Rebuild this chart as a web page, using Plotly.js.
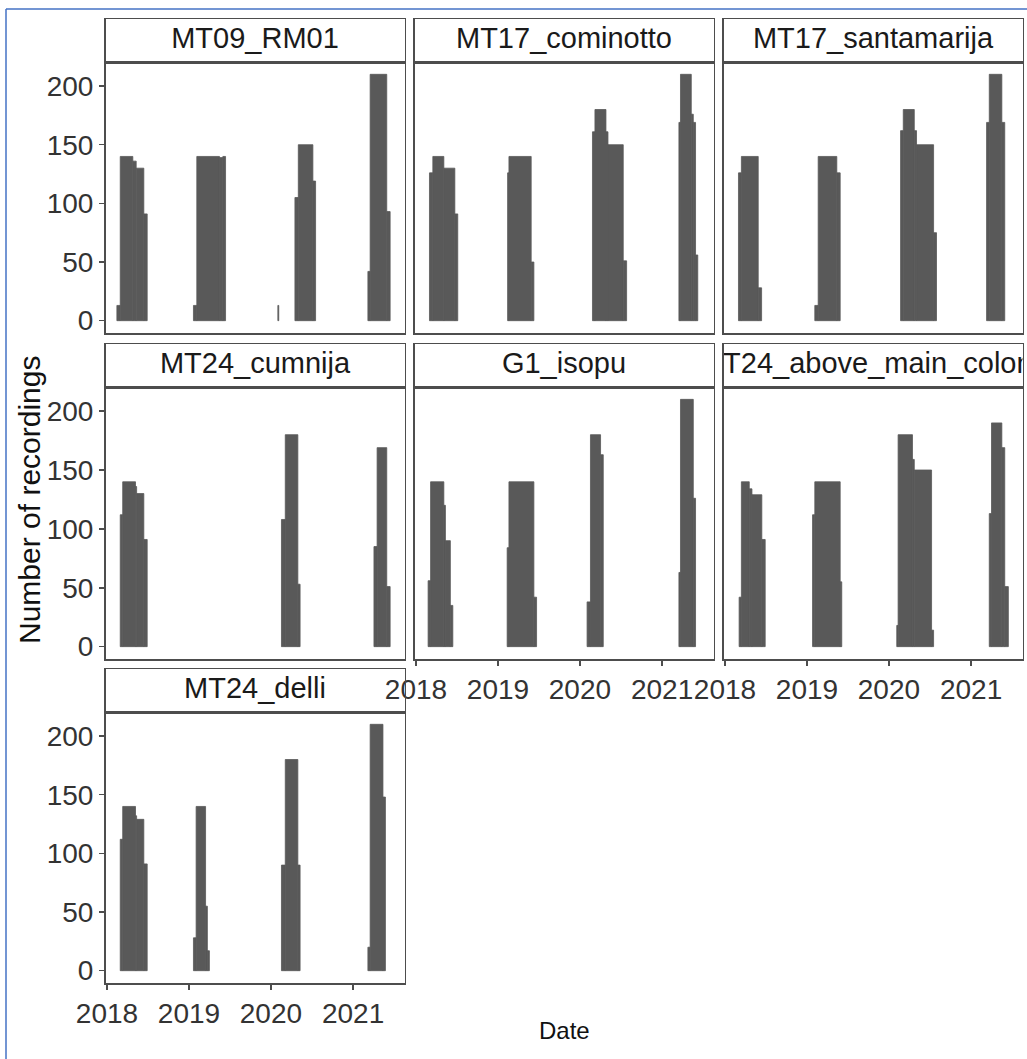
<!DOCTYPE html>
<html>
<head>
<meta charset="utf-8">
<script src="https://cdn.plot.ly/plotly-3.0.1.min.js"></script>
<style>
  html, body { margin: 0; padding: 0; background: #ffffff; }
  #chart { width: 1027px; height: 1059px; }
</style>
</head>
<body>
<div id="chart"></div>
<script>
// Daily recording counts per site, as periods of constant count:
// [first day, day after last day, recordings per day]
const MT09_RM01 = [
  ['2018-02-14', '2018-03-01', 13],
  ['2018-03-01', '2018-04-26', 140],
  ['2018-04-26', '2018-05-11', 136],
  ['2018-05-11', '2018-06-14', 130],
  ['2018-06-14', '2018-06-29', 91],
  ['2019-01-21', '2019-02-05', 13],
  ['2019-02-05', '2019-05-17', 140],
  ['2019-05-17', '2019-06-01', 139],
  ['2019-06-01', '2019-06-13', 140],
  ['2020-02-01', '2020-02-05', 13],
  ['2020-04-17', '2020-05-02', 105],
  ['2020-05-02', '2020-07-06', 150],
  ['2020-07-06', '2020-07-18', 119],
  ['2021-03-08', '2021-03-18', 42],
  ['2021-03-18', '2021-05-31', 210],
  ['2021-05-31', '2021-06-15', 93]
];

const MT17_cominotto = [
  ['2018-03-02', '2018-03-17', 126],
  ['2018-03-17', '2018-05-05', 140],
  ['2018-05-05', '2018-06-23', 130],
  ['2018-06-23', '2018-07-06', 91],
  ['2019-02-13', '2019-02-19', 126],
  ['2019-02-19', '2019-05-29', 140],
  ['2019-05-29', '2019-06-10', 50],
  ['2020-02-26', '2020-03-08', 161],
  ['2020-03-08', '2020-04-26', 180],
  ['2020-04-26', '2020-05-05', 161],
  ['2020-05-05', '2020-07-12', 150],
  ['2020-07-12', '2020-07-27', 51],
  ['2021-03-17', '2021-03-24', 169],
  ['2021-03-24', '2021-05-11', 210],
  ['2021-05-11', '2021-05-20', 176],
  ['2021-05-20', '2021-05-30', 169],
  ['2021-05-30', '2021-06-09', 56]
];

const MT17_santamarija = [
  ['2018-03-02', '2018-03-15', 126],
  ['2018-03-15', '2018-05-29', 140],
  ['2018-05-29', '2018-06-13', 28],
  ['2019-02-05', '2019-02-20', 13],
  ['2019-02-20', '2019-05-14', 140],
  ['2019-05-14', '2019-05-29', 126],
  ['2020-02-22', '2020-03-05', 162],
  ['2020-03-05', '2020-04-23', 180],
  ['2020-04-23', '2020-05-03', 162],
  ['2020-05-03', '2020-07-18', 150],
  ['2020-07-18', '2020-07-31', 75],
  ['2021-03-11', '2021-03-23', 169],
  ['2021-03-23', '2021-05-18', 210],
  ['2021-05-18', '2021-05-31', 169]
];

const MT24_cumnija = [
  ['2018-03-01', '2018-03-12', 112],
  ['2018-03-12', '2018-05-08', 140],
  ['2018-05-08', '2018-05-13', 136],
  ['2018-05-13', '2018-06-14', 130],
  ['2018-06-14', '2018-06-29', 91],
  ['2020-02-17', '2020-03-05', 108],
  ['2020-03-05', '2020-04-30', 180],
  ['2020-04-30', '2020-05-10', 53],
  ['2021-04-04', '2021-04-18', 85],
  ['2021-04-18', '2021-05-31', 169],
  ['2021-05-31', '2021-06-15', 51]
];

const G1_isopu = [
  ['2018-02-24', '2018-03-07', 56],
  ['2018-03-07', '2018-05-05', 140],
  ['2018-05-05', '2018-05-12', 120],
  ['2018-05-12', '2018-06-03', 90],
  ['2018-06-03', '2018-06-14', 35],
  ['2019-02-11', '2019-02-19', 84],
  ['2019-02-19', '2019-06-10', 140],
  ['2019-06-10', '2019-06-22', 42],
  ['2020-02-02', '2020-02-17', 38],
  ['2020-02-17', '2020-04-02', 180],
  ['2020-04-02', '2020-04-14', 163],
  ['2021-03-17', '2021-03-24', 63],
  ['2021-03-24', '2021-05-20', 210],
  ['2021-05-20', '2021-05-30', 126]
];

const MT24_above_main_colony = [
  ['2018-03-05', '2018-03-15', 42],
  ['2018-03-15', '2018-04-19', 140],
  ['2018-04-19', '2018-05-01', 134],
  ['2018-05-01', '2018-06-14', 129],
  ['2018-06-14', '2018-06-29', 91],
  ['2019-01-26', '2019-02-05', 112],
  ['2019-02-05', '2019-05-29', 140],
  ['2019-05-29', '2019-06-05', 55],
  ['2020-02-05', '2020-02-11', 18],
  ['2020-02-11', '2020-04-15', 180],
  ['2020-04-15', '2020-04-23', 159],
  ['2020-04-23', '2020-07-09', 150],
  ['2020-07-09', '2020-07-18', 14],
  ['2021-03-23', '2021-04-02', 113],
  ['2021-04-02', '2021-05-18', 190],
  ['2021-05-18', '2021-05-31', 169],
  ['2021-05-31', '2021-06-16', 51]
];

const MT24_delli = [
  ['2018-03-01', '2018-03-12', 112],
  ['2018-03-12', '2018-05-08', 140],
  ['2018-05-08', '2018-05-13', 132],
  ['2018-05-13', '2018-06-14', 129],
  ['2018-06-14', '2018-06-29', 91],
  ['2019-01-21', '2019-02-02', 28],
  ['2019-02-02', '2019-03-16', 140],
  ['2019-03-16', '2019-03-24', 55],
  ['2019-03-24', '2019-04-02', 17],
  ['2020-02-17', '2020-03-05', 90],
  ['2020-03-05', '2020-04-30', 180],
  ['2020-04-30', '2020-05-10', 90],
  ['2021-03-08', '2021-03-18', 20],
  ['2021-03-18', '2021-05-14', 210],
  ['2021-05-14', '2021-05-25', 148]
];

const siteNames = ['MT09_RM01', 'MT17_cominotto', 'MT17_santamarija',
                   'MT24_cumnija', 'G1_isopu', 'MT24_above_main_colony', 'MT24_delli'];
const sitePeriods = [MT09_RM01, MT17_cominotto, MT17_santamarija,
                     MT24_cumnija, G1_isopu, MT24_above_main_colony, MT24_delli];

const yearTicks = ['2018', '2019', '2020', '2021'];
const countTicks = [0, 50, 100, 150, 200];

// ---- page geometry (pixels) ----
const W = 1027, H = 1059;
const colPx = [[105.5, 404.5], [414.5, 713.5], [723.5, 1022.5]];
const panelPx = [[62, 333], [387, 659], [712, 983]];
const stripPx = [[19, 62], [344, 387], [669, 712]];
const fx = p => p / W;
const fy = p => 1 - p / H;

const FONT = 'Liberation Sans, Arial, sans-serif';
const BORDER = '#4d4d4d';
const BAR = '#595959';

const xRange = ['2017-12-25 08:00', '2021-08-18'];
const yRange = [-10.5, 220.5];

const traces = [];
const layout = {
  width: W, height: H,
  margin: {l: 0, r: 0, t: 0, b: 0, autoexpand: false},
  paper_bgcolor: '#ffffff',
  plot_bgcolor: '#ffffff',
  showlegend: false,
  hovermode: false,
  barmode: 'overlay',
  font: {family: FONT, color: '#333333'},
  annotations: [],
  shapes: []
};

const n = siteNames.length;
siteNames.forEach((name, i) => {
  const row = Math.floor(i / 3), col = i % 3;
  const hasBelow = i + 3 < n;
  const k = i + 1, s = i + 1 + n;
  const periods = sitePeriods[i];

  // one bar per period, starting at its first day and spanning its length
  traces.push({
    type: 'bar',
    x: periods.map(p => p[0]),
    y: periods.map(p => p[2]),
    width: periods.map(p => Date.parse(p[1]) - Date.parse(p[0])),
    offset: 0,
    marker: {color: BAR, line: {width: 0.8, color: BAR}},
    xaxis: 'x' + k, yaxis: 'y' + k,
    hoverinfo: 'skip'
  });

  layout['xaxis' + k] = {
    domain: [fx(colPx[col][0]), fx(colPx[col][1])],
    anchor: 'y' + k,
    type: 'date',
    range: xRange,
    showgrid: false, zeroline: false,
    showline: true, mirror: true, linecolor: BORDER, linewidth: 1.5,
    ticks: hasBelow ? '' : 'outside', ticklen: 5, tickwidth: 1.5, tickcolor: BORDER,
    showticklabels: !hasBelow,
    tickmode: 'array',
    tickvals: yearTicks.map(y => y + '-01-01'),
    ticktext: yearTicks,
    tickfont: {family: FONT, size: 28, color: '#333333'},
    fixedrange: true
  };
  layout['yaxis' + k] = {
    domain: [fy(panelPx[row][1]), fy(panelPx[row][0])],
    anchor: 'x' + k,
    range: yRange,
    showgrid: false, zeroline: false,
    showline: true, mirror: true, linecolor: BORDER, linewidth: 1.5,
    ticks: col === 0 ? 'outside' : '', ticklen: 5, tickwidth: 1.5, tickcolor: BORDER,
    showticklabels: col === 0,
    tickmode: 'array',
    tickvals: countTicks,
    ticktext: countTicks.map(String),
    tickfont: {family: FONT, size: 28, color: '#333333'},
    fixedrange: true
  };

  // facet strip: its own small subplot so that long labels are clipped to the box
  layout['xaxis' + s] = {
    domain: [fx(colPx[col][0]), fx(colPx[col][1])],
    anchor: 'y' + s, range: [0, 1],
    showgrid: false, zeroline: false, showticklabels: false, ticks: '',
    showline: true, mirror: true, linecolor: BORDER, linewidth: 1.5,
    fixedrange: true
  };
  layout['yaxis' + s] = {
    domain: [fy(stripPx[row][1]), fy(stripPx[row][0])],
    anchor: 'x' + s, range: [0, 1],
    showgrid: false, zeroline: false, showticklabels: false, ticks: '',
    showline: true, mirror: true, linecolor: BORDER, linewidth: 1.5,
    fixedrange: true
  };
  traces.push({
    type: 'scatter', mode: 'text',
    x: [0.5], y: [0.5], text: [name],
    textposition: 'middle center',
    textfont: {family: FONT, size: 29, color: '#1a1a1a'},
    cliponaxis: true,
    xaxis: 'x' + s, yaxis: 'y' + s,
    hoverinfo: 'skip'
  });
});

// shared axis titles
layout.annotations.push({
  xref: 'paper', yref: 'paper',
  x: fx((colPx[0][0] + colPx[2][1]) / 2), y: fy(1030),
  text: 'Date', showarrow: false,
  xanchor: 'center', yanchor: 'middle',
  font: {family: FONT, size: 24, color: '#111111'}
});
layout.annotations.push({
  xref: 'paper', yref: 'paper',
  x: fx(29), y: fy(500),
  text: 'Number of recordings', showarrow: false, textangle: -90,
  xanchor: 'center', yanchor: 'middle',
  font: {family: FONT, size: 30, color: '#111111'}
});

// outer frame lines
layout.shapes.push({
  type: 'line', xref: 'paper', yref: 'paper',
  x0: fx(6), x1: 1, y0: fy(9), y1: fy(9),
  line: {color: '#4472c4', width: 1.5}
});
layout.shapes.push({
  type: 'line', xref: 'paper', yref: 'paper',
  x0: fx(6), x1: fx(6), y0: fy(9), y1: 0,
  line: {color: '#4472c4', width: 1.5}
});

Plotly.newPlot('chart', traces, layout, {staticPlot: true, displayModeBar: false});
</script>
</body>
</html>
